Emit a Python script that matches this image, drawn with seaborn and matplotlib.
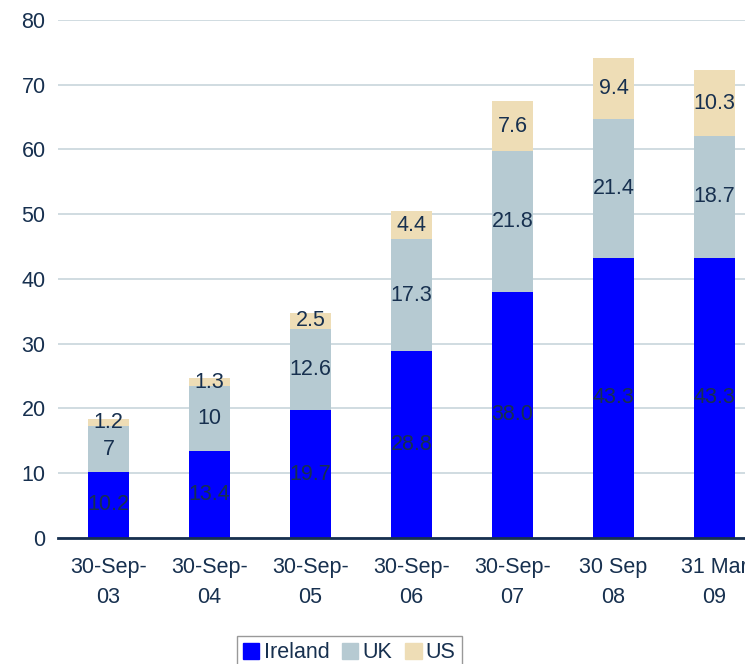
import numpy as np
import pandas as pd
import matplotlib
matplotlib.use("Agg")
import matplotlib.pyplot as plt
import seaborn as sns
from matplotlib.patches import Patch

sns.set_style("white")
plt.rcParams["font.family"] = ["Liberation Sans", "DejaVu Sans"]

dates = ["30-Sep-\n03", "30-Sep-\n04", "30-Sep-\n05", "30-Sep-\n06",
         "30-Sep-\n07", "30 Sep\n08", "31 Mar\n09"]
ireland = [10.2, 13.4, 19.7, 28.8, 38.0, 43.3, 43.3]
uk = [7, 10, 12.6, 17.3, 21.8, 21.4, 18.7]
us = [1.2, 1.3, 2.5, 4.4, 7.6, 9.4, 10.3]
ireland_lbl = ["10.2", "13.4", "19.7", "28.8", "38.0", "43.3", "43.3"]
uk_lbl = ["7", "10", "12.6", "17.3", "21.8", "21.4", "18.7"]
us_lbl = ["1.2", "1.3", "2.5", "4.4", "7.6", "9.4", "10.3"]

c_ie = "#0000FF"
c_uk = "#B6CAD2"
c_us = "#EEDDB6"
txt = "#17304F"
fs = 15.5

df = pd.DataFrame({"date": dates, "Ireland": ireland, "UK": uk, "US": us})
df["b_uk"] = df["Ireland"]
df["b_us"] = df["Ireland"] + df["UK"]

fig = plt.figure(figsize=(7.45, 6.64), dpi=100)
ax = fig.add_axes([0.078, 0.19, 0.949, 0.78])

w = 0.41
sns.barplot(data=df, x="date", y="Ireland", color=c_ie, width=w, ax=ax,
            saturation=1, linewidth=0, zorder=2)
sns.barplot(data=df, x="date", y="UK", bottom=df["b_uk"], color=c_uk, width=w,
            ax=ax, saturation=1, linewidth=0, zorder=2)
sns.barplot(data=df, x="date", y="US", bottom=df["b_us"], color=c_us, width=w,
            ax=ax, saturation=1, linewidth=0, zorder=2)

for i in range(len(dates)):
    ax.text(i, ireland[i] / 2, ireland_lbl[i], ha="center", va="center",
            fontsize=fs, color=txt, zorder=3)
    ax.text(i, ireland[i] + uk[i] / 2, uk_lbl[i], ha="center", va="center",
            fontsize=fs, color=txt, zorder=3)
    ax.text(i, ireland[i] + uk[i] + us[i] / 2, us_lbl[i], ha="center",
            va="center", fontsize=fs, color=txt, zorder=3)

ax.set_ylim(0, 80)
ax.set_xlim(-0.5, 6.5)
ax.set_yticks(np.arange(0, 81, 10))
ax.yaxis.grid(True, color="#C8D6DC", lw=1.2, zorder=0)
ax.set_axisbelow(True)
ax.set_xlabel("")
ax.set_ylabel("")
for s in ["left", "right", "top"]:
    ax.spines[s].set_visible(False)
ax.spines["bottom"].set_color(txt)
ax.spines["bottom"].set_linewidth(2)
ax.tick_params(axis="y", length=0, labelsize=fs, labelcolor=txt, pad=9)
ax.tick_params(axis="x", which="major", length=0, labelsize=fs,
               labelcolor=txt, pad=14)
for t in ax.get_xticklabels():
    t.set_linespacing(1.55)
ax.set_xticks(np.arange(-0.5, 7, 1), minor=True)
ax.tick_params(axis="x", which="minor", length=8, width=2, color=txt,
               direction="out")

handles = [Patch(color=c_ie, label="Ireland"), Patch(color=c_uk, label="UK"),
           Patch(color=c_us, label="US")]
leg = fig.legend(handles=handles, loc="lower center", ncol=3,
                 bbox_to_anchor=(0.469, -0.025), fontsize=fs, frameon=True,
                 fancybox=False, edgecolor="#808080", handlelength=0.75,
                 handleheight=0.75, handletextpad=0.2, columnspacing=0.6,
                 borderpad=0.3)
for t in leg.get_texts():
    t.set_color(txt)

fig.savefig("out.png", dpi=100)
